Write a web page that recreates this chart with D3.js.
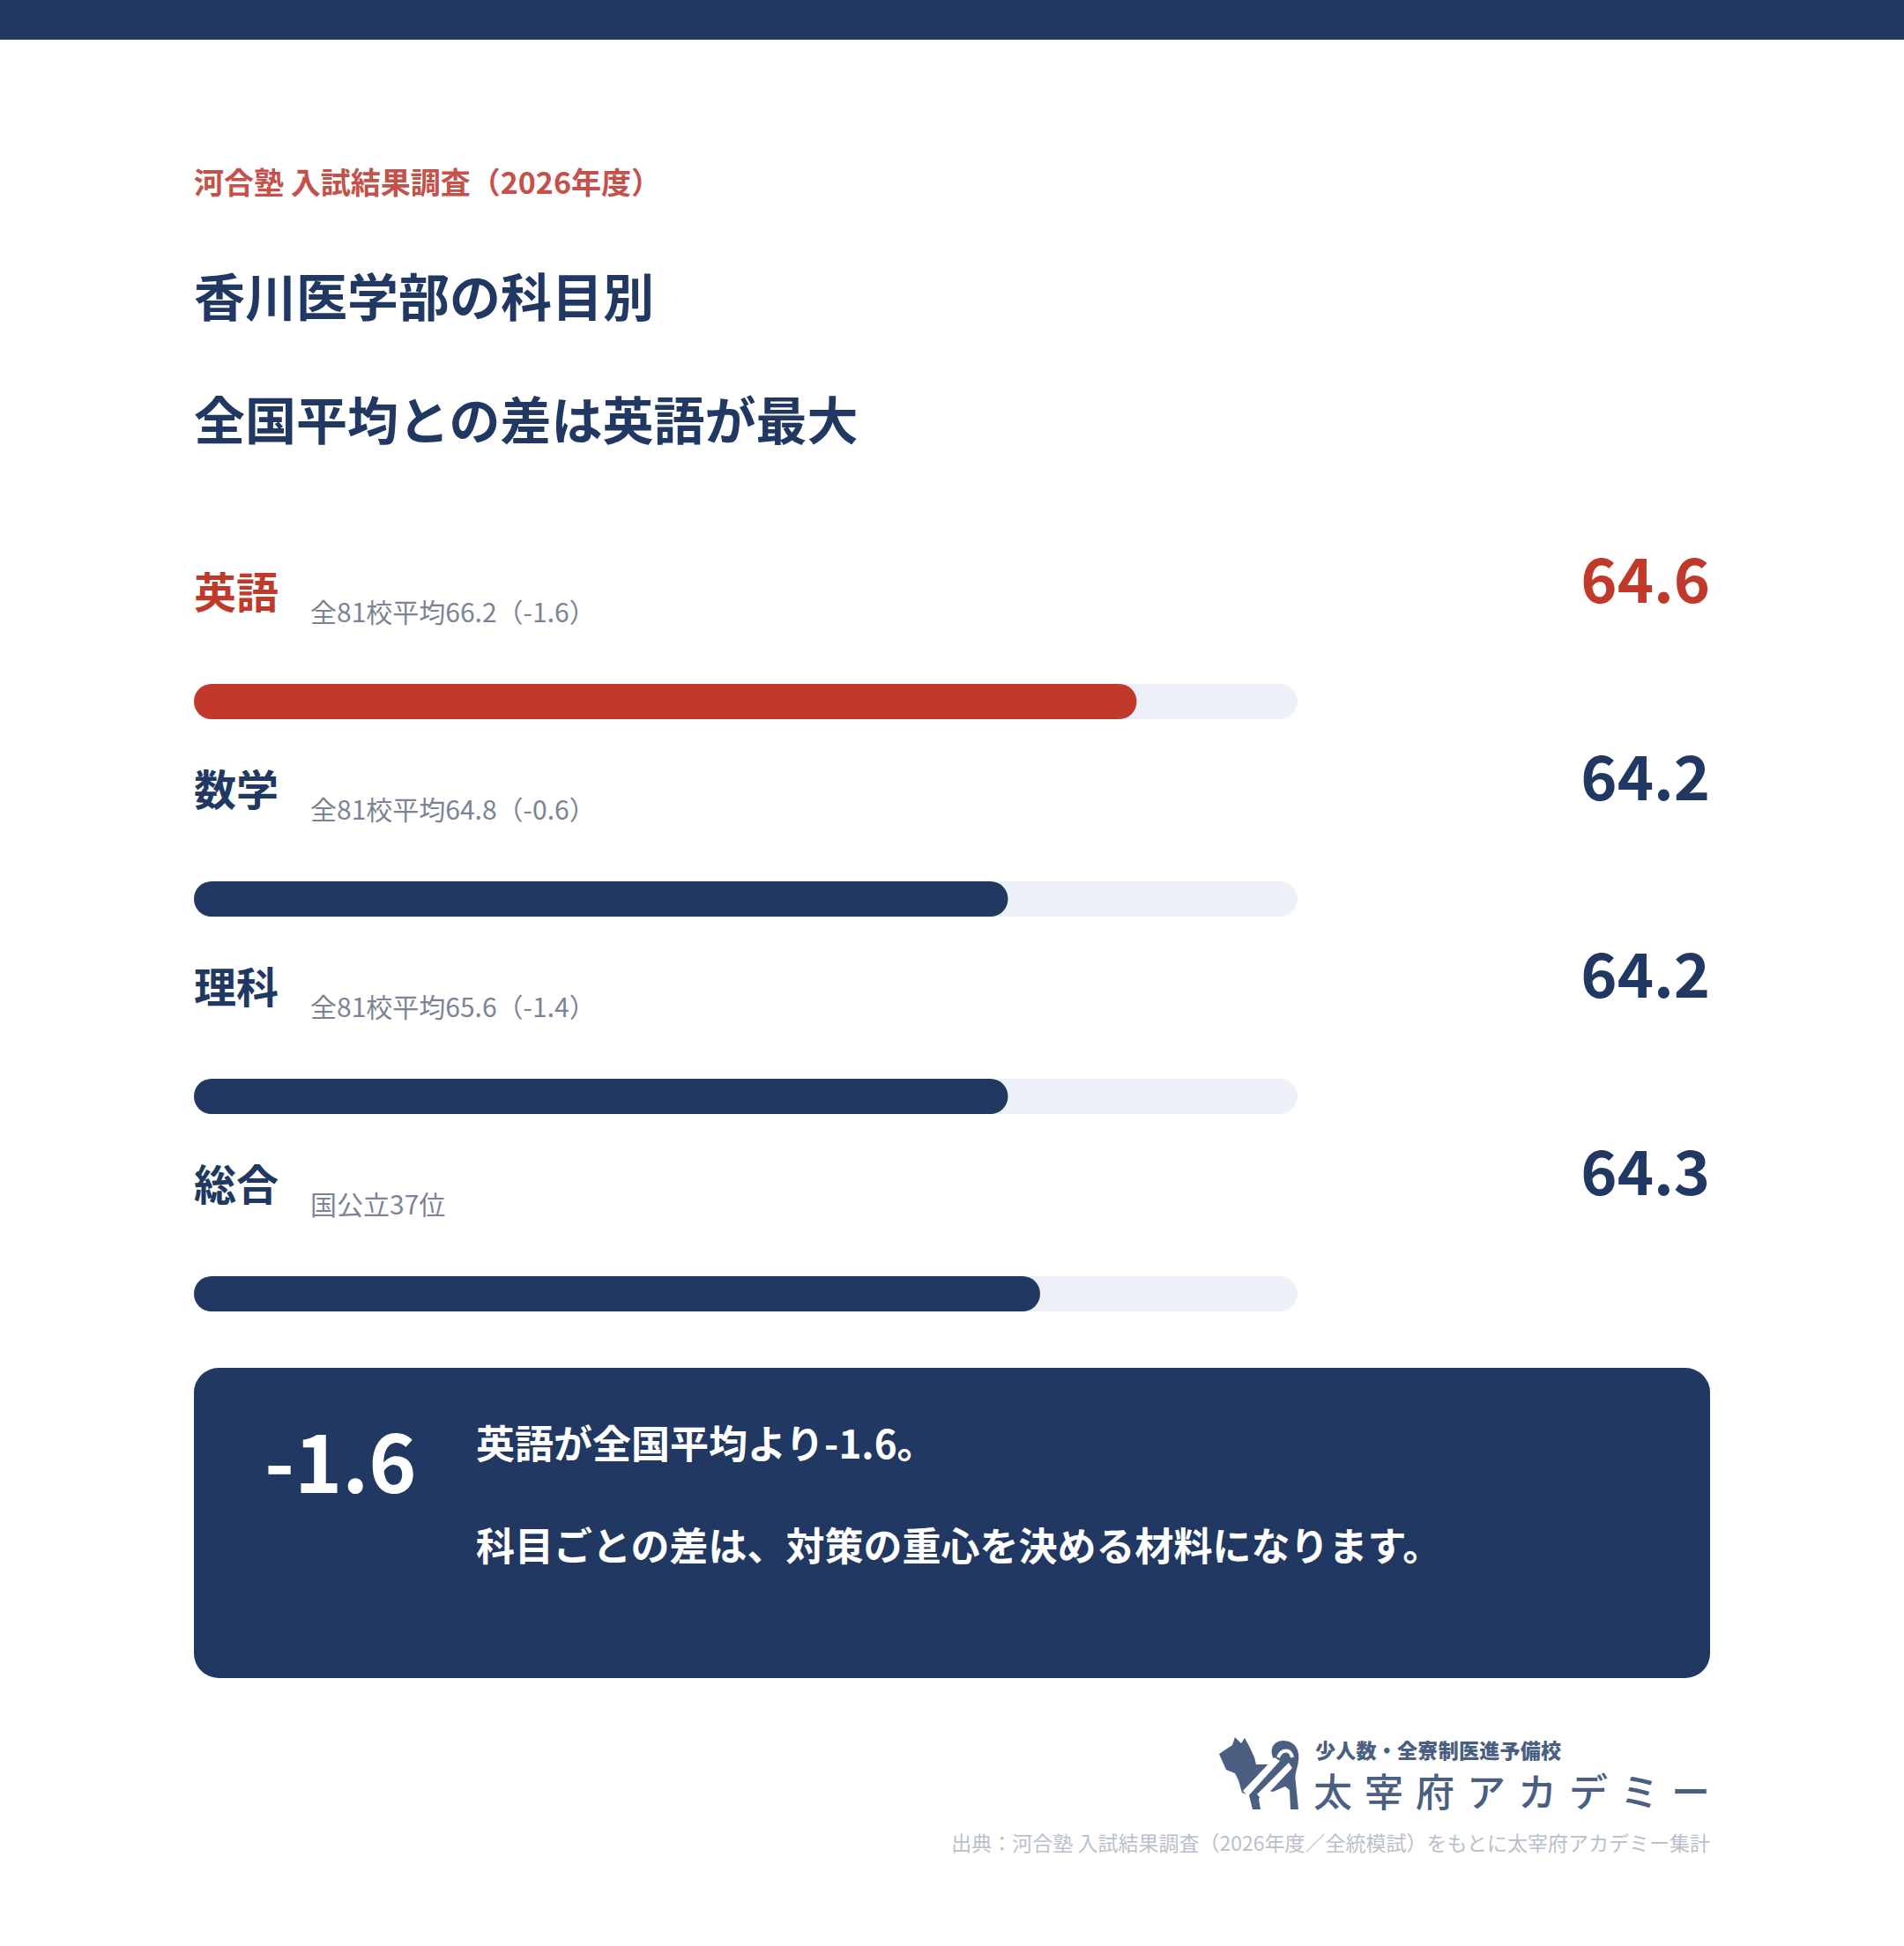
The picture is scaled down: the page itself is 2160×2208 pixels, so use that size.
<!DOCTYPE html>
<html><head><meta charset="utf-8">
<script src="https://cdn.jsdelivr.net/npm/d3@7"></script>
<style>
html,body{margin:0;padding:0;background:#fff;}
svg{display:block;}
text{font-family:"Noto Sans CJK JP","Noto Sans",sans-serif;}
</style></head>
<body>
<svg id="c" width="2160" height="2208"></svg>
<script>
// ---- data ----
const subjects = ["英語", "数学", "理科", "総合"];
const scores = [64.6, 64.2, 64.2, 64.3];
const notes = ["全81校平均66.2（-1.6）", "全81校平均64.8（-0.6）", "全81校平均65.6（-1.4）", "国公立37位"];
const highlightSubject = "英語";
const highlightDiff = -1.6;
const sourceLabel = "河合塾 入試結果調査（2026年度）";
const titleLines = ["香川医学部の科目別", "全国平均との差は英語が最大"];
const summaryLines = ["英語が全国平均より-1.6。", "科目ごとの差は、対策の重心を決める材料になります。"];
const footnote = "出典：河合塾 入試結果調査（2026年度／全統模試）をもとに太宰府アカデミー集計";
const logoSub = "少人数・全寮制医進予備校";
const logoMain = "太宰府アカデミー";

// ---- style ----
const NAVY = "#213863", RED = "#c0392b", TRACK = "#edf0f7", GRAY = "#7b8496";
const svg = d3.select("#c");

svg.append("rect").attr("x", 0).attr("y", 0).attr("width", 2160).attr("height", 45).attr("fill", NAVY);

svg.append("text").attr("x", 220).attr("y", 220).attr("font-size", 34).attr("font-weight", 700)
  .attr("fill", "#c4514a").text(sourceLabel);

svg.selectAll("text.title").data(titleLines).join("text").attr("class", "title")
  .attr("x", 220).attr("y", (d, i) => 359 + i * 140)
  .attr("font-size", 58).attr("font-weight", 700).attr("fill", NAVY).text(d => d);

// ---- bars ----
const barX = 220, barW = 1252, barH = 40;
const x = d3.scaleLinear().domain([61.67, 65.1]).range([0, barW]);
const row = d3.scalePoint().domain(subjects).range([0, 672]);
const rows = subjects.map((s, i) => ({ s, v: scores[i], note: notes[i] }));

const g = svg.selectAll("g.row").data(rows).join("g").attr("class", "row")
  .attr("transform", d => `translate(0,${row(d.s)})`);

g.append("text").attr("x", 220).attr("y", 690).attr("font-size", 48).attr("font-weight", 700)
  .attr("fill", d => d.s === highlightSubject ? RED : NAVY).text(d => d.s);
g.append("text").attr("x", 352).attr("y", 706).attr("font-size", 30).attr("font-weight", 400)
  .attr("fill", GRAY).text(d => d.note);
g.append("text").attr("x", 1940).attr("y", 684).attr("text-anchor", "end").attr("font-size", 70)
  .attr("font-weight", 700).attr("fill", d => d.s === highlightSubject ? RED : NAVY)
  .text(d => d.v.toFixed(1));
g.append("rect").attr("x", barX).attr("y", 776).attr("width", barW).attr("height", barH)
  .attr("rx", barH / 2).attr("fill", TRACK);
g.append("rect").attr("x", barX).attr("y", 776).attr("width", d => x(d.v)).attr("height", barH)
  .attr("rx", barH / 2).attr("fill", d => d.s === highlightSubject ? RED : NAVY);

// ---- summary box ----
svg.append("rect").attr("x", 220).attr("y", 1552).attr("width", 1720).attr("height", 352)
  .attr("rx", 28).attr("fill", NAVY);
svg.append("text").attr("x", 300).attr("y", 1694).attr("font-size", 92).attr("font-weight", 700)
  .attr("fill", "#fff").text(highlightDiff.toFixed(1));
svg.selectAll("text.sum").data(summaryLines).join("text").attr("class", "sum")
  .attr("x", 540).attr("y", (d, i) => 1655 + i * 116)
  .attr("font-size", 44).attr("font-weight", 700).attr("fill", "#fff").text(d => d);

// ---- logo ----
const LOGO = "#4a5f82";
const dog = svg.append("g").attr("transform", "translate(1380,1970)");
dog.append("path").attr("fill", LOGO).attr("d",
  "M3,20 L18,10 L21,1 L28,8 L32,2 L37,11 L43,24 L45,32 L62,32 L66,27 " +
  "C59,18 63,5 76,5 C89,5 95,16 93,28 C92,37 88,43 90,53 L93,83 L84,83 L83,61 L78,57 " +
  "L64,63 L56,61 L48,71 L50,83 L41,83 L37,67 L29,64 L25,50 L21,42 L11,38 L7,29 Z");
dog.append("path").attr("fill", "#fff").attr("d",
  "M30,62 L66,24 L72,28 L36,68 Z M46,66 L82,30 L86,36 L52,72 Z");
dog.append("path").attr("fill", "none").attr("stroke", "#fff").attr("stroke-width", 4)
  .attr("d", "M70,24 C74,14 84,14 86,24");

svg.append("text").attr("x", 1492).attr("y", 1995).attr("font-size", 23).attr("font-weight", 900)
  .attr("fill", LOGO).attr("textLength", 279).attr("lengthAdjust", "spacing").text(logoSub);
svg.append("text").attr("x", 1490).attr("y", 2050).attr("font-size", 44).attr("font-weight", 500)
  .attr("fill", LOGO).attr("textLength", 450).attr("lengthAdjust", "spacing").text(logoMain);

svg.append("text").attr("x", 1940).attr("y", 2100).attr("text-anchor", "end").attr("font-size", 23)
  .attr("fill", "#b9bfcc").text(footnote);
</script>
</body></html>
